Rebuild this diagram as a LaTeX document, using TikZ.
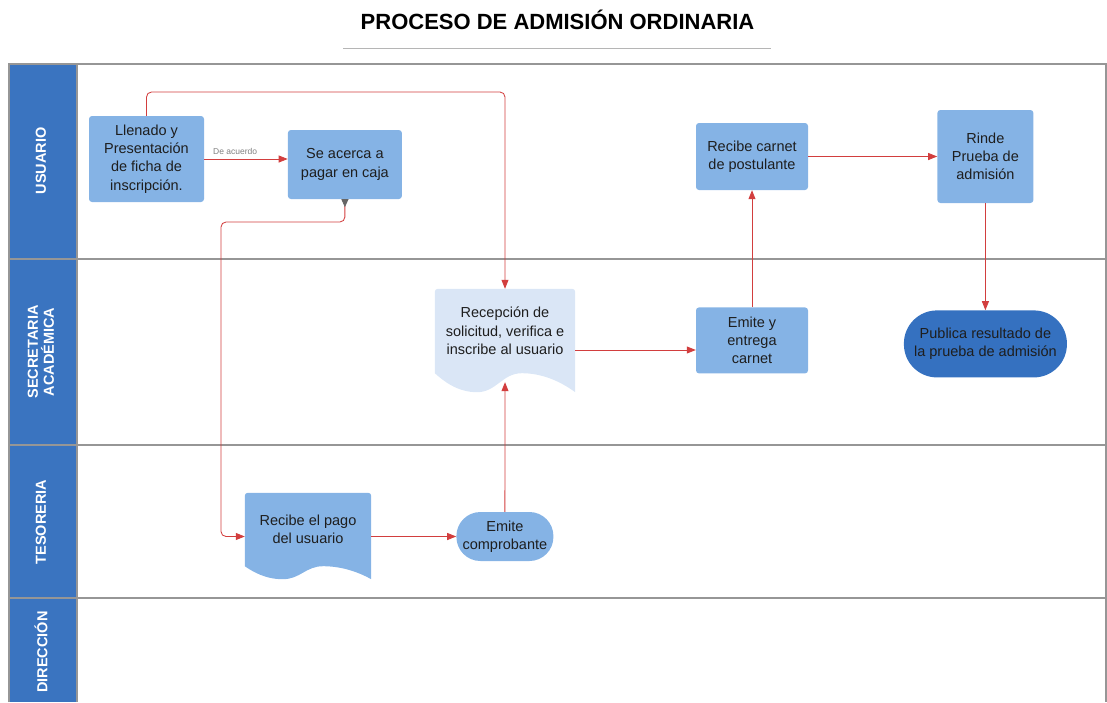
\documentclass[tikz,border=0pt]{standalone}
\usepackage{fontspec}
\setmainfont{Liberation Sans}
\usetikzlibrary{arrows.meta,calc,backgrounds,positioning}

\definecolor{headblue}{RGB}{58,116,192}
\definecolor{boxblue}{RGB}{133,179,229}
\definecolor{paleblue}{RGB}{218,230,246}
\definecolor{darkblue}{RGB}{53,113,192}
\definecolor{flowred}{RGB}{210,62,62}
\definecolor{lanegray}{RGB}{150,150,150}
\definecolor{inkdark}{RGB}{30,30,30}

% wavy bottom of a document node: node, fill colour, depth of the wave
\newcommand{\docwave}[3]{%
  \fill[#2] let \p1=(#1.south west), \p2=(#1.north east), \n1={\x2-\x1} in
    (\p1) [rounded corners=3pt] -- (\x1,\y2) -- (\x2,\y2) [sharp corners] -- (\x2,{\y1-#3pt})
    .. controls ({\x2-0.12*\n1},{\y1-0.35*#3pt}) and ({\x1+0.75*\n1},\y1) .. ({\x1+0.62*\n1},\y1)
    .. controls ({\x1+0.48*\n1},\y1) and ({\x1+0.44*\n1},{\y1-#3pt}) .. ({\x1+0.30*\n1},{\y1-#3pt})
    .. controls ({\x1+0.16*\n1},{\y1-#3pt}) and ({\x1+0.06*\n1},{\y1-0.4*#3pt}) .. (\p1) -- cycle;}

\begin{document}
\begin{tikzpicture}[x=1pt,y=-1pt,>={Triangle[length=9pt,width=7pt]}]
  \tikzstyle{proc}=[rectangle,rounded corners=3pt,fill=boxblue,text=inkdark,align=center,inner sep=0pt,font=\fontsize{14.5}{18.3}\selectfont]
  \tikzstyle{doc}=[rectangle,inner sep=0pt,text=inkdark,align=center,font=\fontsize{14.5}{18.3}\selectfont]
  \tikzstyle{term}=[proc,rounded corners=24pt]
  \tikzstyle{flow}=[->,draw=flowred,line width=0.85pt,rounded corners=5pt]
  \tikzstyle{lane}=[draw=lanegray,line width=1.4pt]
  \tikzstyle{lanelabel}=[rotate=90,text=white,align=center,font=\bfseries\fontsize{14.5}{16}\selectfont]

  \useasboundingbox (0,0) rectangle (1107,702);

  \node[font=\bfseries\fontsize{22}{26}\selectfont] (title) at (557.5,20) {PROCESO DE ADMISIÓN ORDINARIA};
  \draw[draw=lanegray!70,line width=1pt] (343,48) -- (771,48);

  \fill[headblue] (9,64) rectangle (77,702);
  \draw[lane] (9,702) -- (9,64) -- (1106,64) -- (1106,702);
  \draw[lane] (77,64) -- (77,702);
  \draw[lane] (9,259) -- (1106,259);
  \draw[lane] (9,445) -- (1106,445);
  \draw[lane] (9,598) -- (1106,598);

  \node[lanelabel] (usuario)    at (41,161) {USUARIO};
  \node[lanelabel] (secretaria) at (41,352) {SECRETARIA\\ACADÉMICA};
  \node[lanelabel] (tesoreria)  at (41,522) {TESORERIA};
  \node[lanelabel] (direccion)  at (41,652) {DIRECCIÓN};

  \node[proc,minimum width=115pt,minimum height=86pt] (llenado) at (146.5,159) {Llenado y\\Presentación\\de ficha de\\inscripción.};
  \node[proc,minimum width=114pt,minimum height=69pt] (acerca) [right=83.5pt of llenado, yshift=-5.5pt] {Se acerca a\\pagar en caja};
  \node[proc,minimum width=112pt,minimum height=67pt] (carnet) at (752,156.5) {Recibe carnet\\de postulante};
  \node[proc,minimum width=96pt,minimum height=93pt] (rinde) [right=129pt of carnet] {Rinde\\Prueba de\\admisión};
  \node[doc,minimum width=140pt,minimum height=84pt] (recep) at (505,331) {Recepción de\\solicitud, verifica e\\inscribe al usuario};
  \node[proc,minimum width=112pt,minimum height=66pt] (emite) [below=117pt of carnet] {Emite y\\entrega\\carnet};
  \node[term,fill=darkblue,rounded corners=33pt,minimum width=163pt,minimum height=67pt] (publica) [below=107pt of rinde] {Publica resultado de\\la prueba de admisión};
  \node[doc,minimum width=126pt,minimum height=73pt] (pago) at (308,529.5) {Recibe el pago\\del usuario};
  \node[term,minimum width=97pt,minimum height=49pt] (comprob) [right=85pt of pago, yshift=-7pt] {Emite\\comprobante};

  \begin{scope}[on background layer]
    \docwave{recep}{paleblue}{19}
    \docwave{pago}{boxblue}{13}
  \end{scope}

  \coordinate (toprun) at (300,92);
  \coordinate (turn) at (221,222);
  \coordinate (pagoin) at ($(pago.west)+(0,7)$);
  \coordinate (pagoout) at ($(pago.east)+(0,7)$);
  \coordinate (recepout) at ($(recep.east)+(0,19)$);

  \draw[flow] (llenado.east) -- node[above=1pt,pos=0.37,font=\fontsize{8.5}{10}\selectfont,text=gray] {De acuerdo} (llenado.east -| acerca.west);
  \draw[flow] (llenado.north) |- (toprun) -| (recep.north);
  \draw[flow,{Triangle[reversed,length=8pt,width=7pt,color=gray!80!black]}->] (acerca.south) |- (turn) |- (pagoin);
  \draw[flow] (pagoout) -- (pagoout -| comprob.west);
  \draw[flow] (comprob.north) -- ($(recep.south)+(0,9)$);
  \draw[flow] (recepout) -- (recepout -| emite.west);
  \draw[flow] (emite.north) -- (carnet.south);
  \draw[flow] (carnet.east) -- (rinde.west);
  \draw[flow] (rinde.south) -- (publica.north);
\end{tikzpicture}
\end{document}
